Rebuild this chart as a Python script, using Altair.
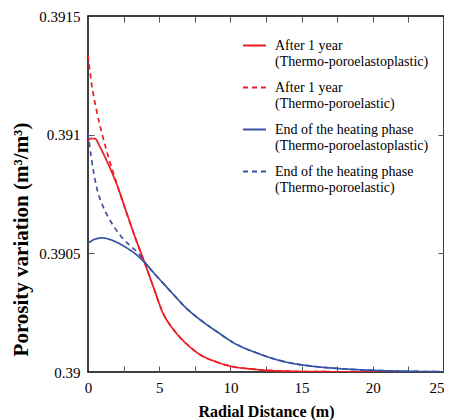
import altair as alt
import pandas as pd

# ---- data (porosity offset read in units of 1e-4 above 0.39) ----
BASE = 0.39
SCALE = 1e-4

r_plastic_x = [0, 0.25, 0.5, 0.85, 1.4, 2.1, 2.8, 3.3, 4.0, 4.7, 5.25, 5.8, 6.4, 7.0, 7.9, 9.0, 10.2, 11.4, 12.5, 13.7, 15.0, 17.5, 20.0, 22.5, 25.0]
r_plastic_y = [9.76, 9.84, 9.83, 9.47, 8.79, 7.78, 6.55, 5.69, 4.57, 3.40, 2.50, 1.95, 1.50, 1.14, 0.72, 0.43, 0.22, 0.13, 0.07, 0.04, 0.02, 0.01, 0.0, 0.0, 0.0]

r_elastic_x = [0, 0.25, 0.6, 1.05, 1.5, 1.8, 2.1, 2.8, 3.3, 4.0, 4.7, 5.25, 5.8, 6.4, 7.0, 7.9, 9.0, 10.2, 11.4, 12.5, 13.7, 15.0, 17.5, 20.0, 22.5, 25.0]
r_elastic_y = [13.34, 12.16, 11.02, 9.89, 8.92, 8.35, 7.78, 6.55, 5.69, 4.57, 3.40, 2.50, 1.95, 1.50, 1.14, 0.72, 0.43, 0.22, 0.13, 0.07, 0.04, 0.02, 0.01, 0.0, 0.0, 0.0]

b_plastic_x = [0, 0.5, 1.0, 1.7, 2.6, 3.3, 4.0, 4.7, 5.4, 6.1, 6.8, 7.9, 9.05, 10.2, 11.9, 13.7, 16.1, 17.5, 20.0, 22.5, 25.0]
b_plastic_y = [5.43, 5.60, 5.65, 5.55, 5.27, 4.99, 4.60, 4.12, 3.66, 3.20, 2.75, 2.19, 1.70, 1.24, 0.79, 0.45, 0.22, 0.15, 0.07, 0.03, 0.01]

b_elastic_x = [0, 0.25, 0.6, 1.08, 1.67, 2.37, 3.07, 3.54, 4.0, 4.7, 5.4, 6.1, 6.8, 7.9, 9.05, 10.2, 11.9, 13.7, 16.1, 17.5, 20.0, 22.5, 25.0]
b_elastic_y = [10.06, 8.95, 7.80, 6.94, 6.27, 5.68, 5.26, 5.01, 4.62, 4.12, 3.66, 3.20, 2.75, 2.19, 1.70, 1.24, 0.79, 0.45, 0.22, 0.15, 0.07, 0.03, 0.01]

series_names = [
    "After 1 year|(Thermo-poroelastoplastic)",
    "After 1 year|(Thermo-poroelastic)",
    "End of the heating phase|(Thermo-poroelastoplastic)",
    "End of the heating phase|(Thermo-poroelastic)",
]
series_colors = ["#ed1c24", "#ed1c24", "#3953a4", "#3953a4"]
series_dash = [[1, 0], [5, 4], [1, 0], [5, 4]]

x_label_values = [0, 5, 10, 15, 20, 25]
x_minor_values = [2.5, 5, 7.5, 10, 12.5, 15, 17.5, 20, 22.5]
y_label_values = [0.39, 0.3905, 0.391, 0.3915]
y_minor_values = [0.3905, 0.391]

rows = []
for name, xs, ys in zip(
    series_names,
    [r_plastic_x, r_elastic_x, b_plastic_x, b_elastic_x],
    [r_plastic_y, r_elastic_y, b_plastic_y, b_elastic_y],
):
    for i, (xv, yv) in enumerate(zip(xs, ys)):
        rows.append({"series": name, "x": xv, "y": BASE + yv * SCALE, "i": i})
df = pd.DataFrame(rows)

FONT = "Liberation Serif"
W, H = 356, 356

xscale = alt.Scale(domain=[0, 25], nice=False, zero=False)
yscale = alt.Scale(domain=[0.39, 0.3915], nice=False, zero=False)

legend_cfg = dict(
    title=None, orient="none", legendX=154, legendY=17, padding=0,
    symbolType="stroke", symbolSize=529, symbolStrokeWidth=1.8,
    labelFont=FONT, labelFontSize=14, labelColor="black", labelLimit=400,
    labelOffset=8, labelExpr="split(datum.label, '|')", rowPadding=6,
    labelBaseline="middle",
)

main = alt.Chart(df).mark_line(strokeWidth=1.7, clip=True, interpolate="monotone").encode(
    x=alt.X("x:Q", scale=xscale, axis=alt.Axis(
        orient="bottom", values=x_label_values, format="d", ticks=False, domain=False,
        labelFont=FONT, labelFontSize=15, labelColor="black", labelPadding=8, labelFlush=False,
        labelAlign={"condition": {"test": "datum.value >= 25", "value": "right"}, "value": "center"},
        title="Radial Distance (m)", titleFont=FONT, titleFontSize=16, titleFontWeight="bold",
        titleColor="black", titleY=31, titleBaseline="top", grid=False)),
    y=alt.Y("y:Q", scale=yscale, axis=alt.Axis(
        orient="left", values=y_label_values, format=".4~f", ticks=False, domain=False,
        labelFont=FONT, labelFontSize=15, labelColor="black", labelPadding=8, labelFlush=False,
        title="Porosity variation (m³/m³)", titleFont=FONT, titleFontSize=21,
        titleFontWeight="bold", titleColor="black", titleAngle=270, titleBaseline="bottom",
        titleAlign="center", titleX=-57, titleY=223, grid=False)),
    color=alt.Color("series:N", scale=alt.Scale(domain=series_names, range=series_colors),
                    legend=alt.Legend(**legend_cfg)),
    strokeDash=alt.StrokeDash("series:N", scale=alt.Scale(domain=series_names, range=series_dash),
                              legend=alt.Legend(**legend_cfg)),
    order="i:Q",
)

tick_axis_common = dict(labels=False, domain=False, ticks=True, tickSize=6,
                        tickColor="#555555", tickWidth=1, grid=False, title=None)

ticks_a = alt.Chart(df).mark_line(opacity=0).encode(
    x=alt.X("x:Q", scale=xscale, axis=alt.Axis(orient="top", offset=-H, values=x_minor_values, **tick_axis_common)),
    y=alt.Y("y:Q", scale=yscale, axis=alt.Axis(orient="right", offset=-W, values=y_minor_values, **tick_axis_common)),
    detail="series:N",
)
ticks_b = alt.Chart(df).mark_line(opacity=0).encode(
    x=alt.X("x:Q", scale=xscale, axis=alt.Axis(orient="bottom", offset=-H, values=x_minor_values, **tick_axis_common)),
    y=alt.Y("y:Q", scale=yscale, axis=alt.Axis(orient="left", offset=-W, values=y_minor_values, **tick_axis_common)),
    detail="series:N",
)

chart = alt.layer(ticks_a, ticks_b, main).resolve_axis(
    x="independent", y="independent"
).properties(
    width=W, height=H,
    autosize=alt.AutoSizeParams(type="none"),
    padding={"left": 80, "top": 8, "right": 0, "bottom": 60},
    background="white",
).configure_view(stroke="black", strokeWidth=1.5)

chart.save("out.html", embed_options={"renderer": "svg", "actions": False})
